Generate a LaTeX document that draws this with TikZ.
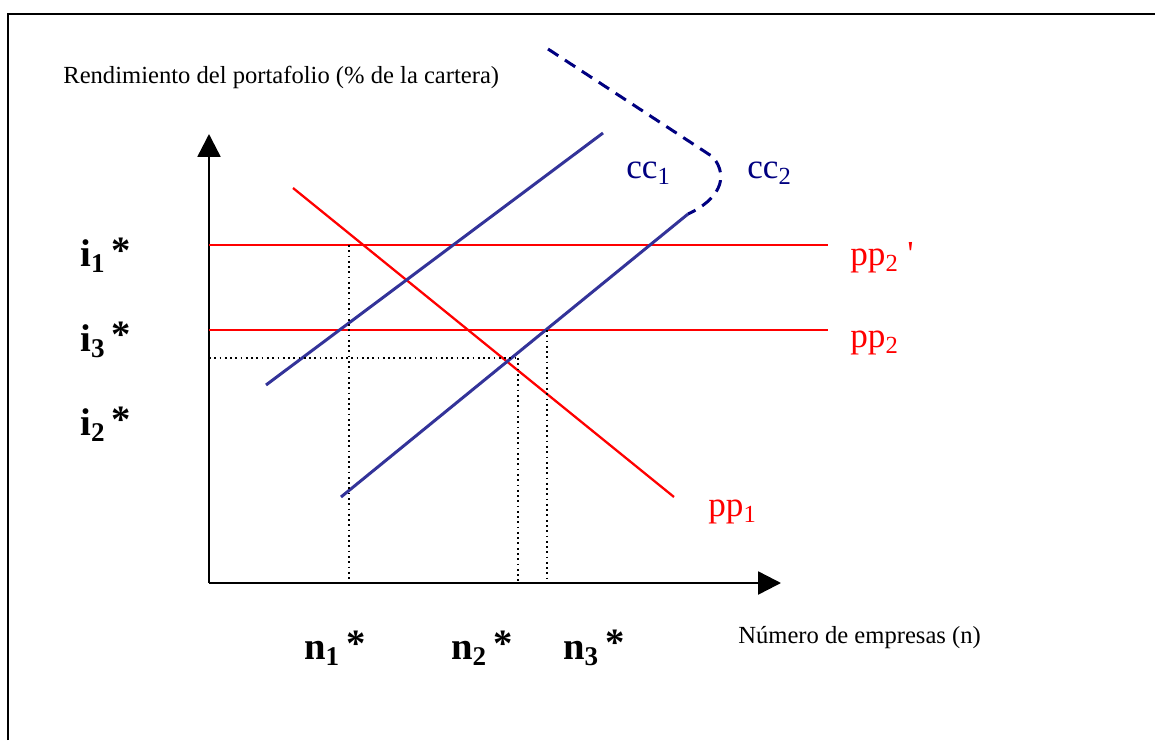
\documentclass[tikz,border=0pt]{standalone}
\usepackage{fontspec}
\setmainfont{Liberation Serif}
\usepackage{tikz}
\usetikzlibrary{arrows.meta}

\definecolor{ccblue}{RGB}{51,51,153}
\definecolor{ccnavy}{RGB}{0,0,128}
\newcommand{\upstar}{\,\raisebox{0.1em}{*}}

\begin{document}
\begin{tikzpicture}[
    x=0.02cm, y=-0.02cm,
    axis/.style={line width=1.4pt, -{Triangle[length=13pt,width=13pt]}},
    ppline/.style={red, line width=1.3pt},
    ccline/.style={ccblue, line width=1.7pt},
    guide/.style={dotted, line width=1pt},
    ilabel/.style={font=\fontsize{22}{26}\selectfont\bfseries, anchor=west, inner sep=0pt},
    nlabel/.style={font=\fontsize{22}{26}\selectfont\bfseries, inner sep=0pt},
    pplabel/.style={red, font=\fontsize{20}{24}\selectfont, anchor=west, inner sep=0pt},
    cclabel/.style={ccnavy, font=\fontsize{20}{24}\selectfont, anchor=west, inner sep=0pt},
    axlabel/.style={font=\fontsize{14}{16}\selectfont, anchor=west, inner sep=0pt}
]
\useasboundingbox (0,0) rectangle (1155,740);

% frame
\draw[line width=1.5pt] (8,740) -- (8,14) -- (1155,14);

% axes
\coordinate (O) at (209,583);
\coordinate (ytop) at (209,134);
\coordinate (xend) at (781,583);
\draw[axis] (O) -- (ytop);
\draw[axis] (O) -- (xend);

% axis titles
\node[axlabel] (ytitle) at (63,77) {Rendimiento del portafolio (\% de la cartera)};
\node[axlabel] (xtitle) at (738,638) {Número de empresas (n)};

% pp curves
\coordinate (pp2a) at (209,245);
\coordinate (pp2b) at (828,245);
\coordinate (pp3a) at (209,330);
\coordinate (pp3b) at (828,330);
\coordinate (pp1a) at (293,188);
\coordinate (pp1b) at (674,497);
\draw[ppline] (pp2a) -- (pp2b);
\draw[ppline] (pp3a) -- (pp3b);
\draw[ppline] (pp1a) -- (pp1b);

% cc curves
\coordinate (cc1a) at (266,385);
\coordinate (cc1b) at (603,133);
\coordinate (cc2a) at (341,497);
\coordinate (cc2b) at (688,214);
\coordinate (cc2c) at (713,157);
\coordinate (cc2d) at (548,49);
\draw[ccline] (cc1a) -- (cc1b);
\draw[ccline] (cc2a) -- (cc2b);
\draw[ccnavy, line width=1.7pt, dash pattern=on 7pt off 4.5pt]
    (cc2d) -- (cc2c) .. controls (730,178) and (718,200) .. (cc2b);

% dotted guides
\coordinate (g1a) at (349,245);
\coordinate (g1b) at (349,583);
\coordinate (g2a) at (518,358);
\coordinate (g2b) at (518,583);
\coordinate (g3a) at (547,330);
\coordinate (g3b) at (547,583);
\coordinate (g4a) at (209,358);
\draw[guide] (g1a) -- (g1b);
\draw[guide] (g2a) -- (g2b);
\draw[guide] (g3a) -- (g3b);
\draw[guide] (g4a) -- (g2a);

% curve labels
\node[cclabel] (cc1) at (626,173) {cc\textsubscript{1}};
\node[cclabel] (cc2) at (747,173) {cc\textsubscript{2}};
\node[pplabel] (pp2p) at (850,258) {pp\textsubscript{2}\ \textquotesingle};
\node[pplabel] (pp2) at (850,343) {pp\textsubscript{2}};
\node[pplabel] (pp1) at (708,512) {pp\textsubscript{1}};

% equilibrium labels
\node[ilabel] (i1) at (80,255) {i\textsubscript{1}\upstar};
\node[ilabel] (i3) at (80,340) {i\textsubscript{3}\upstar};
\node[ilabel] (i2) at (80,424) {i\textsubscript{2}\upstar};
\node[nlabel] (n1) at (335,648) {n\textsubscript{1}\upstar};
\node[nlabel] (n2) at (482,648) {n\textsubscript{2}\upstar};
\node[nlabel] (n3) at (594,648) {n\textsubscript{3}\upstar};

\end{tikzpicture}
\end{document}
